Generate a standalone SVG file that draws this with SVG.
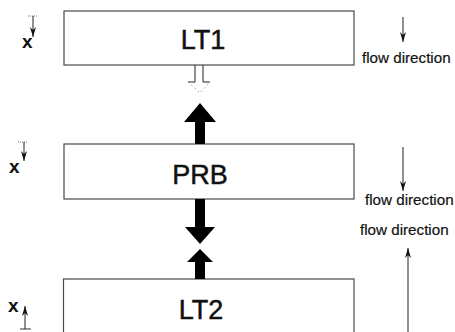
<svg xmlns="http://www.w3.org/2000/svg" width="455" height="332" viewBox="0 0 455 332">
<style>
.box{fill:#fff;stroke:#4a4a4a;stroke-width:1.2}
.lbl{font-family:"Liberation Sans",Arial,sans-serif;font-size:27px;fill:#111;stroke:#111;stroke-width:0.5;text-anchor:middle}
.flow{font-family:"Liberation Sans",Arial,sans-serif;font-size:15.2px;fill:#111;stroke:#111;stroke-width:0.2}
.xl{font-family:"Liberation Sans",Arial,sans-serif;font-size:19px;font-weight:bold;fill:#111}
.thin{stroke:#222;stroke-width:1;fill:none}
.blk{fill:#000}
</style>
<defs>
<marker id="ah" viewBox="0 0 10 6" refX="10" refY="3" markerWidth="10" markerHeight="6" markerUnits="userSpaceOnUse" orient="auto">
<path d="M0,0 L10,3 L0,6 L3,3 Z" fill="#111"/>
</marker>
</defs>
<rect width="455" height="332" fill="#fff"/>

<g id="LT1">
<rect class="box" x="64" y="11" width="290" height="54"/>
<text class="lbl" x="203" y="49">LT1</text>
</g>

<g id="PRB">
<rect class="box" x="64" y="144" width="290" height="55"/>
<text class="lbl" x="200" y="184">PRB</text>
</g>

<g id="LT2">
<rect class="box" x="63.5" y="279" width="290.5" height="70"/>
<text class="lbl" x="201" y="319">LT2</text>
</g>

<g id="connectors">
<polyline class="thin" stroke="#555" points="195,65 195,82 188,82"/>
<polyline class="thin" stroke="#555" points="203,65 203,82 210,82"/>
<polyline points="188,82 200,93 210,82" fill="none" stroke="#999" stroke-width="1" stroke-dasharray="1.5,3"/>
<polygon class="blk" points="200,103 216,122 205,122 205,144 195,144 195,122 184,122"/>
<polygon class="blk" points="195,199 205,199 205,227 215,227 200,244 185,227 195,227"/>
<polygon class="blk" points="200,249 213,262 205,262 205,279 195,279 195,262 187,262"/>
</g>

<g id="flow-labels">
<line class="thin" x1="403" y1="17" x2="403" y2="42" marker-end="url(#ah)"/>
<text class="flow" x="362" y="63">flow direction</text>
<line class="thin" x1="403" y1="147" x2="403" y2="191" marker-end="url(#ah)"/>
<text class="flow" x="365" y="205">flow direction</text>
<text class="flow" x="360" y="235">flow direction</text>
<line class="thin" x1="408" y1="332" x2="408" y2="248" marker-end="url(#ah)"/>
</g>

<g id="x-markers">
<text class="xl" x="22" y="48">x</text>
<line x1="28" y1="16" x2="38" y2="16" stroke="#777" stroke-width="1" stroke-dasharray="1,1"/>
<line class="thin" x1="33" y1="16" x2="33" y2="37" marker-end="url(#ah)"/>
<text class="xl" x="9" y="173">x</text>
<line x1="18" y1="142" x2="28" y2="142" stroke="#777" stroke-width="1" stroke-dasharray="1,1"/>
<line class="thin" x1="24" y1="142" x2="24" y2="161" marker-end="url(#ah)"/>
<text class="xl" x="8" y="312">x</text>
<line x1="20" y1="329" x2="31" y2="329" stroke="#333" stroke-width="1"/>
<line class="thin" x1="25" y1="329" x2="25" y2="306" marker-end="url(#ah)"/>
</g>
</svg>
